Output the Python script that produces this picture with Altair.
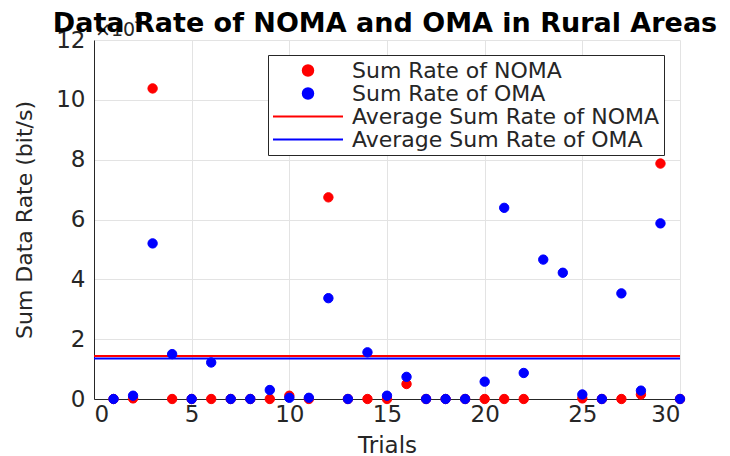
import altair as alt
import pandas as pd

# ---- data (values in units of 1e5 bit/s) ----
trials = list(range(1, 31))
noma = [0.0, 0.02, 10.38, 0.0, 0.0, 0.0, 0.0, 0.0, 0.0, 0.11,
        0.0, 6.74, 0.0, 0.0, 0.0, 0.50, 0.0, 0.0, 0.0, 0.0,
        0.0, 0.0, None, None, 0.02, 0.0, 0.0, 0.15, 7.87, 0.0]
oma = [0.0, 0.11, 5.20, 1.50, 0.0, 1.22, 0.0, 0.0, 0.30, 0.04,
       0.04, 3.37, 0.0, 1.56, 0.11, 0.74, 0.0, 0.0, 0.0, 0.58,
       6.39, 0.87, 4.66, 4.22, 0.15, 0.0, 3.53, 0.28, 5.87, 0.0]
avg_values = [1.44, 1.35]
series_names = ["Sum Rate of NOMA", "Sum Rate of OMA",
                "Average Sum Rate of NOMA", "Average Sum Rate of OMA"]
series_colors = ["#ff0000", "#0000ff", "#ff0000", "#0000ff"]
x_ticks = [0, 5, 10, 15, 20, 25, 30]
y_ticks = [0, 2, 4, 6, 8, 10, 12]
title_text = "Data Rate of NOMA and OMA in Rural Areas"

rows = []
for name, vals in ((series_names[0], noma), (series_names[1], oma)):
    for t, v in zip(trials, vals):
        if v is not None:
            rows.append({"trial": t, "value": v, "series": name})
points_df = pd.DataFrame(rows)
avg_df = pd.DataFrame({"avg": avg_values,
                       "series": series_names[2:],
                       "hex": series_colors[2:]})

TXT = "#262626"
FONT = "DejaVu Sans"
circ = "M-0.15,0A0.15,0.15,0,1,1,0.15,0A0.15,0.15,0,1,1,-0.15,0Z"

legend = alt.Legend(
    title=None, orient="none", legendX=174, legendY=15, direction="vertical",
    symbolSize=4900, symbolStrokeWidth=2, clipHeight=23, rowPadding=0,
    padding=4, labelOffset=8, labelFontSize=22, labelFont=FONT,
    labelColor=TXT, strokeColor=TXT, fillColor="white", labelLimit=500,
    symbolOpacity=1,
)
color_scale = alt.Scale(domain=series_names, range=series_colors)
shape_scale = alt.Scale(domain=series_names, range=[circ, circ, "stroke", "stroke"])

x_enc = alt.X("trial:Q", scale=alt.Scale(domain=[0, 30], nice=False),
              axis=alt.Axis(values=x_ticks, title="Trials", format="d"))
y_enc = alt.Y("value:Q", scale=alt.Scale(domain=[0, 12], nice=False),
              axis=alt.Axis(values=y_ticks, title="Sum Data Rate (bit/s)", format="d"))

pts = alt.Chart(points_df).mark_point(
    filled=False, size=3900, strokeWidth=1, opacity=1, clip=False
).encode(
    x=x_enc, y=y_enc,
    color=alt.Color("series:N", scale=color_scale, legend=legend),
    fill=alt.Fill("series:N", scale=color_scale, legend=legend),
    shape=alt.Shape("series:N", scale=shape_scale, legend=legend),
    order=alt.Order("series:N"),
)

rules = alt.Chart(avg_df).mark_rule(strokeWidth=2).encode(
    y=alt.Y("avg:Q"),
    stroke=alt.Stroke("hex:N", scale=None),
)

exp_base = alt.Chart(pd.DataFrame({"t": ["\u00d710"]})).mark_text(
    align="left", baseline="alphabetic", fontSize=19, font=FONT, color=TXT
).encode(x=alt.value(1), y=alt.value(-4), text="t:N")
exp_sup = alt.Chart(pd.DataFrame({"t": ["5"]})).mark_text(
    align="left", baseline="alphabetic", fontSize=14, font=FONT, color=TXT
).encode(x=alt.value(40), y=alt.value(-17), text="t:N")

title_mark = alt.Chart(pd.DataFrame({"t": [title_text]})).mark_text(
    align="center", baseline="alphabetic", fontSize=27, font=FONT,
    fontWeight="bold", color="#000000"
).encode(x=alt.value(291), y=alt.value(-8), text="t:N")

chart = alt.layer(rules, pts, exp_base, exp_sup, title_mark).properties(
    width=586, height=359,
    autosize=alt.AutoSizeParams(type="none"),
    padding={"left": 86, "top": 32, "right": 42, "bottom": 56},
).configure_view(stroke=None).configure_axis(
    labelFont=FONT, labelFontSize=23, labelColor=TXT,
    titleFont=FONT, titleColor=TXT, titleFontWeight="normal",
    domainColor=TXT, domainWidth=1, ticks=False,
    gridColor="#e3e3e3", gridWidth=1, grid=True,
).configure_axisX(
    labelPadding=4, titleFontSize=23, titlePadding=8,
).configure_axisY(
    labelPadding=9, titleFontSize=22, titlePadding=19,
)

chart.save("out.html", embed_options={"renderer": "svg", "actions": False})
